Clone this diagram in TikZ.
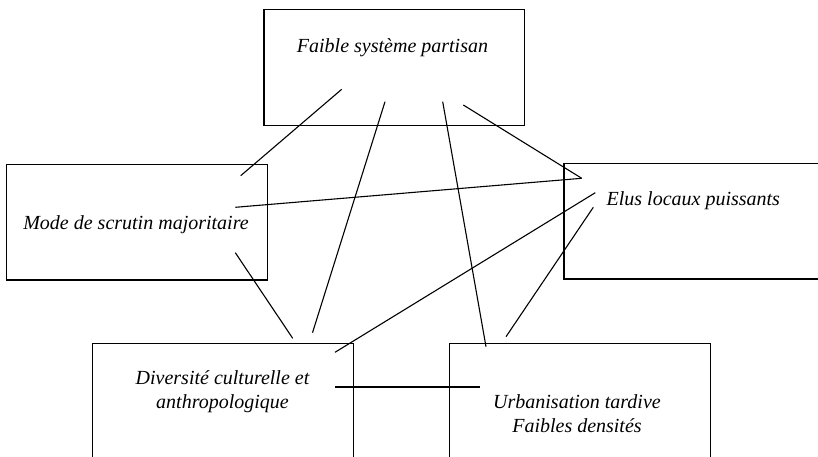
\documentclass[tikz,border=0pt]{standalone}
\usepackage{fontspec}
\setmainfont{Liberation Serif}
\begin{document}
\begin{tikzpicture}[x=1pt,y=-1pt,
  box/.style={draw,line width=1.2pt,inner sep=0pt,anchor=north west},
  lbl/.style={anchor=base,inner sep=0pt,align=center,font=\fontsize{20}{24}\selectfont\itshape},
  link/.style={line width=1.1pt},
  thick link/.style={line width=2pt}]
\useasboundingbox (0,0) rectangle (818,457);
\clip (0,0) rectangle (818,457);
% boxes
\node[box,minimum width=260.7pt,minimum height=116pt] (top) at (263.3,9) {};
\node[box,minimum width=260.7pt,minimum height=115.3pt] (left) at (6,164) {};
\node[box,minimum width=270pt,minimum height=115pt] (right) at (563.3,163.3) {};
\node[box,minimum width=261pt,minimum height=130pt] (bl) at (91.7,342.7) {};
\node[box,minimum width=261pt,minimum height=130pt] (br) at (449,342.7) {};
% texts
\node[lbl] (ttop) at (392.5,52.3) {Faible système partisan};
\node[lbl] (tleft) at (136,229) {Mode de scrutin majoritaire};
\node[lbl] (tright) at (693.3,205.7) {Elus locaux puissants};
\node[lbl,anchor=north] (tbl) at (222.5,370.5) {Diversité culturelle et\\anthropologique};
\node[lbl,anchor=north] (tbr) at (577,394) {Urbanisation tardive\\Faibles densités};
% connector end points
\coordinate (a1) at (341.7,89.3);  \coordinate (a2) at (240.7,175.7);
\coordinate (b1) at (385,101.7);   \coordinate (b2) at (312.5,332.7);
\coordinate (c1) at (442.7,101.7); \coordinate (c2) at (486,346.7);
\coordinate (d1) at (463.3,105);   \coordinate (d2) at (581.7,178.3);
\coordinate (e1) at (235.3,207.3);
\coordinate (f1) at (235.3,252.7); \coordinate (f2) at (292.7,338.3);
\coordinate (g1) at (595.3,192.7); \coordinate (g2) at (335,352.3);
\coordinate (h1) at (593.3,207.3); \coordinate (h2) at (506,336.7);
\coordinate (i1) at (335,387);     \coordinate (i2) at (480,387);
% connectors
\draw[link] (a1) -- (a2);
\draw[link] (b1) -- (b2);
\draw[link] (c1) -- (c2);
\draw[link] (d1) -- (d2);
\draw[link] (e1) -- (d2);
\draw[link] (f1) -- (f2);
\draw[link] (g1) -- (g2);
\draw[link] (h1) -- (h2);
\draw[thick link] (i1) -- (i2);
\end{tikzpicture}
\end{document}
